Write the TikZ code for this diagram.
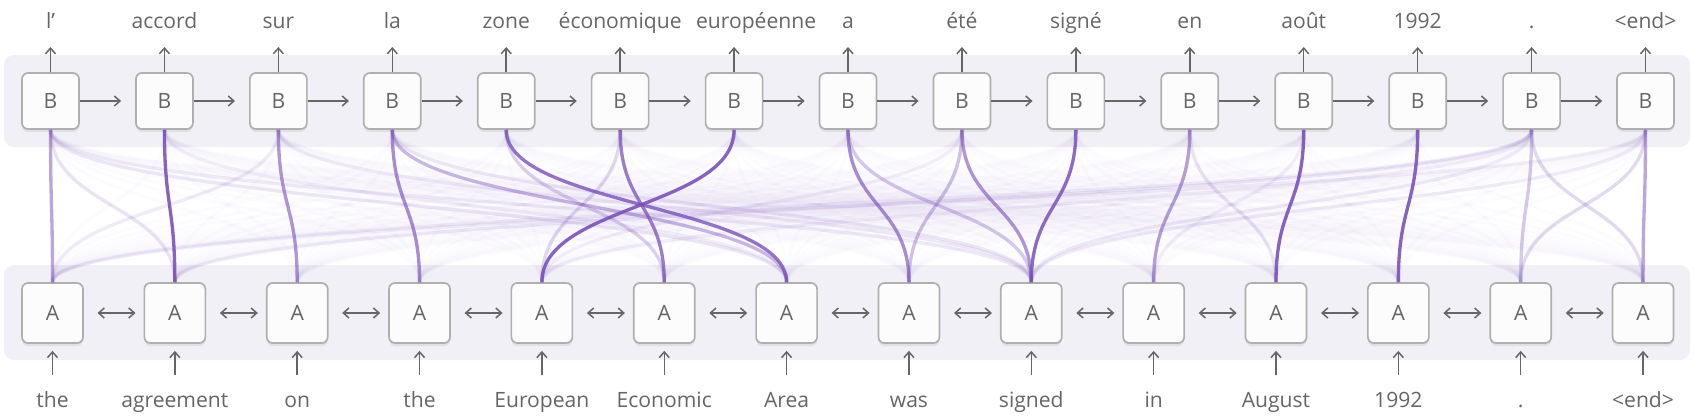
\documentclass[tikz,border=0pt]{standalone}
\usepackage{fontspec}
\setmainfont{Open Sans}
\usetikzlibrary{arrows.meta,shadows}
\definecolor{ink}{HTML}{666666}
\definecolor{band}{HTML}{F1F0F6}
\definecolor{boxline}{HTML}{AFAFAF}
\definecolor{boxfill}{HTML}{FCFCFC}
\definecolor{attn}{HTML}{7B52B9}
\tikzset{
  cell/.style={draw=boxline, fill=boxfill, line width=0.05cm, rounded corners=0.18cm,
    text=ink, font=\fontsize{18}{21}\selectfont,
    drop shadow={shadow xshift=0cm, shadow yshift=-0.09cm, fill=black, opacity=0.07}},
  dec/.style={cell, minimum width=1.71cm, minimum height=1.68cm},
  enc/.style={cell, minimum width=1.83cm, minimum height=1.8cm},
  word/.style={text=ink, font=\fontsize{18}{21}\selectfont, anchor=base, inner sep=0pt},
  flow/.style={-{Straight Barb[length=0.17cm,width=0.3cm]}, draw=ink, line width=0.045cm},
  biflow/.style={{Straight Barb[length=0.17cm,width=0.3cm]}-{Straight Barb[length=0.17cm,width=0.3cm]},
    draw=ink, line width=0.045cm},
  attend/.style={draw=attn, line width=0.1cm, draw opacity=#1},
  panel/.style={fill=band, rounded corners=0.3cm}
}
\begin{document}
\begin{tikzpicture}[x=0.03cm, y=-0.03cm]
  \useasboundingbox (0,0) rectangle (1694,415);
  \fill[panel] (4,55) rectangle (1690,147);
  \fill[panel] (4,265) rectangle (1690,360);

  % decoder row B, outputs above (européenne sits a bit to the right)
  \foreach \w/\s [count=\i] in {l’/0,accord/0,sur/0,la/0,zone/0,économique/0,européenne/22,a/0,été/0,
      signé/0,en/0,août/0,1992/0,./0,<end>/0} {
    \node[dec] (B\i) at ({50.5+113.93*(\i-1)},101) {B};
    \node[word] (out\i) at ({50.5+113.93*(\i-1)+\s},28) {\w};
    \draw[flow, shorten >=0.57cm] (B\i.north) -- (B\i.north |- out\i.base);
  }
  % encoder row A, inputs below
  \foreach \w [count=\j] in {the,agreement,on,the,European,Economic,Area,was,signed,in,August,1992,.,<end>} {
    \node[enc] (A\j) at ({52.5+122.35*(\j-1)},313) {A};
    \node[word] (in\j) at ({52.5+122.35*(\j-1)},407) {\w};
    \draw[flow, shorten <=0.96cm, shorten >=0.21cm] (A\j.south |- in\j.base) -- (A\j.south);
  }

  \foreach \i [evaluate=\i as \k using int(\i+1)] in {1,...,14}
    \draw[flow, shorten >=0.42cm] (B\i) -- (B\k);
  \foreach \j [evaluate=\j as \k using int(\j+1)] in {1,...,13}
    \draw[biflow, shorten <=0.41cm, shorten >=0.24cm] (A\j) -- (A\k);

  % attention: faint everywhere, then the heavy weights
  \foreach \i in {1,...,15}
    \foreach \j in {1,...,14}
      \draw[attend=0.02] (B\i.south) .. controls +(0,77) and +(0,-77) .. (A\j.north);
  \foreach \i/\j/\w in {1/1/0.5, 2/2/0.9, 3/3/0.6, 4/4/0.65, 5/7/0.8, 6/6/0.75, 7/5/0.9,
      8/8/0.65, 9/9/0.6, 9/8/0.35, 10/9/0.85, 11/10/0.55, 12/11/0.9, 13/12/0.9, 14/13/0.3,
      15/14/0.5, 4/7/0.4, 5/6/0.25, 6/5/0.22, 8/9/0.3, 11/11/0.15, 1/2/0.15, 1/7/0.12,
      1/9/0.1, 3/1/0.1, 3/9/0.1, 4/9/0.12, 14/14/0.2, 14/1/0.08, 14/2/0.1, 14/5/0.08,
      14/9/0.1, 15/13/0.2, 15/1/0.07, 15/9/0.1, 2/7/0.08, 12/10/0.08, 9/5/0.08}
    \draw[attend=\w] (B\i.south) .. controls +(0,77) and +(0,-77) .. (A\j.north);
\end{tikzpicture}
\end{document}
